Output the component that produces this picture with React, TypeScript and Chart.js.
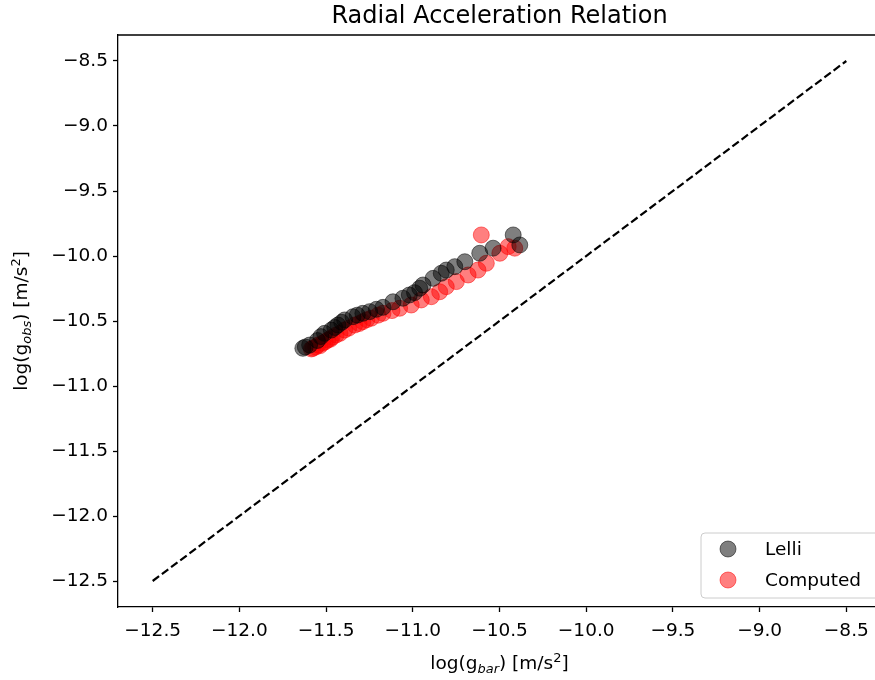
import React, { useEffect, useRef } from "react";
import { Chart, registerables } from "chart.js";

Chart.register(...registerables);

// ---- data ----
const lelliX = [-11.634, -11.62, -11.595, -11.55, -11.53, -11.509, -11.47, -11.45, -11.432, -11.41, -11.393, -11.345, -11.32, -11.288, -11.249, -11.21, -11.172, -11.114, -11.057, -11.02, -10.99, -10.96, -10.941, -10.883, -10.836, -10.807, -10.758, -10.7, -10.614, -10.537, -10.421, -10.383];
const lelliY = [-10.71, -10.7, -10.685, -10.65, -10.62, -10.595, -10.57, -10.55, -10.531, -10.51, -10.492, -10.467, -10.455, -10.441, -10.428, -10.41, -10.395, -10.352, -10.325, -10.3, -10.282, -10.248, -10.223, -10.172, -10.133, -10.108, -10.082, -10.044, -9.979, -9.94, -9.838, -9.915];
const computedX = [-11.585, -11.576, -11.56, -11.547, -11.535, -11.52, -11.505, -11.49, -11.475, -11.465, -11.442, -11.42, -11.393, -11.37, -11.335, -11.31, -11.288, -11.265, -11.24, -11.2, -11.172, -11.12, -11.076, -11.009, -10.951, -10.893, -10.845, -10.807, -10.749, -10.681, -10.624, -10.576, -10.498, -10.45, -10.412, -10.605];
const computedY = [-10.715, -10.71, -10.7, -10.685, -10.69, -10.67, -10.66, -10.646, -10.64, -10.625, -10.608, -10.595, -10.569, -10.555, -10.531, -10.52, -10.505, -10.49, -10.479, -10.455, -10.441, -10.42, -10.402, -10.377, -10.338, -10.313, -10.275, -10.236, -10.197, -10.146, -10.108, -10.056, -9.979, -9.928, -9.94, -9.838];
const unityX = [-12.5, -8.5];
const unityY = [-12.5, -8.5];
const xTicks = [-12.5, -12.0, -11.5, -11.0, -10.5, -10.0, -9.5, -9.0, -8.5];
const yTicks = [-12.5, -12.0, -11.5, -11.0, -10.5, -10.0, -9.5, -9.0, -8.5];
const xRange = [-12.7, -8.3];
const yRange = [-12.7, -8.3];
const seriesNames = ["Lelli", "Computed"];
const titleText = "Radial Acceleration Relation";

const FONT = "DejaVu Sans";
const FS = 18.5;
const BLACK_FILL = "rgba(0,0,0,0.5)";
const RED_FILL = "rgba(255,0,0,0.5)";
const MR = 8;

const fmt = (v: number) => (v < 0 ? "\u2212" : "") + Math.abs(v).toFixed(1);

type Seg = { t: string; size: number; italic?: boolean; dy?: number };

function drawSegs(ctx: CanvasRenderingContext2D, segs: Seg[], cx: number, baseY: number) {
  let total = 0;
  const widths = segs.map((s) => {
    ctx.font = `${s.italic ? "italic " : ""}${s.size}px "${FONT}"`;
    const w = ctx.measureText(s.t).width;
    total += w;
    return w;
  });
  let x = cx - total / 2;
  ctx.textAlign = "left";
  ctx.textBaseline = "alphabetic";
  segs.forEach((s, i) => {
    ctx.font = `${s.italic ? "italic " : ""}${s.size}px "${FONT}"`;
    ctx.fillText(s.t, x, baseY + (s.dy || 0));
    x += widths[i];
  });
}

const decor = {
  id: "decor",
  afterDraw(chart: any) {
    const ctx: CanvasRenderingContext2D = chart.ctx;
    const a = chart.chartArea;
    ctx.save();
    ctx.strokeStyle = "#000";
    ctx.lineWidth = 1.3;
    ctx.beginPath();
    ctx.moveTo(a.left, a.top);
    ctx.lineTo(a.right, a.top);
    ctx.lineTo(a.right, a.bottom);
    ctx.stroke();

    ctx.fillStyle = "#000";
    const cx = (a.left + a.right) / 2;
    // title
    ctx.font = `24px "${FONT}"`;
    ctx.textAlign = "center";
    ctx.textBaseline = "alphabetic";
    ctx.fillText(titleText, cx, 23);

    const small = FS * 0.7;
    // x label
    drawSegs(ctx, [
      { t: "log(g", size: FS },
      { t: "bar", size: small, italic: true, dy: 3.5 },
      { t: ") [m/s", size: FS },
      { t: "2", size: small, dy: -7 },
      { t: "]", size: FS },
    ], cx, 669);

    // y label
    ctx.save();
    ctx.translate(27, (a.top + a.bottom) / 2);
    ctx.rotate(-Math.PI / 2);
    drawSegs(ctx, [
      { t: "log(g", size: FS },
      { t: "obs", size: small, italic: true, dy: 3.5 },
      { t: ") [m/s", size: FS },
      { t: "2", size: small, dy: -7 },
      { t: "]", size: FS },
    ], 0, 0);
    ctx.restore();

    // legend
    const lx = 701, ly = 533, lw = 220, lh = 65, r = 4;
    ctx.beginPath();
    ctx.moveTo(lx + r, ly);
    ctx.lineTo(lx + lw - r, ly);
    ctx.arcTo(lx + lw, ly, lx + lw, ly + r, r);
    ctx.lineTo(lx + lw, ly + lh - r);
    ctx.arcTo(lx + lw, ly + lh, lx + lw - r, ly + lh, r);
    ctx.lineTo(lx + r, ly + lh);
    ctx.arcTo(lx, ly + lh, lx, ly + lh - r, r);
    ctx.lineTo(lx, ly + r);
    ctx.arcTo(lx, ly, lx + r, ly, r);
    ctx.closePath();
    ctx.fillStyle = "rgba(255,255,255,0.8)";
    ctx.fill();
    ctx.strokeStyle = "#cccccc";
    ctx.lineWidth = 1;
    ctx.stroke();

    const fills = [BLACK_FILL, RED_FILL];
    const ys = [549, 580];
    seriesNames.forEach((name, i) => {
      ctx.beginPath();
      ctx.arc(728, ys[i], MR, 0, Math.PI * 2);
      ctx.fillStyle = fills[i];
      ctx.fill();
      ctx.strokeStyle = fills[i];
      ctx.lineWidth = 1;
      ctx.stroke();
      ctx.fillStyle = "#000";
      ctx.font = `${FS}px "${FONT}"`;
      ctx.textAlign = "left";
      ctx.textBaseline = "middle";
      ctx.fillText(name, 765, ys[i] + 1);
    });
    ctx.restore();
  },
};

export default function App() {
  const ref = useRef<HTMLCanvasElement | null>(null);
  useEffect(() => {
    if (!ref.current) return;
    const toPts = (xs: number[], ys: number[]) => xs.map((x, i) => ({ x, y: ys[i] }));
    const tickFont = { family: FONT, size: FS };
    const chart = new Chart(ref.current, {
      type: "scatter",
      data: {
        datasets: [
          {
            label: "unity",
            data: toPts(unityX, unityY),
            showLine: true,
            borderColor: "#000",
            borderWidth: 2.2,
            borderDash: [8, 3.5],
            pointRadius: 0,
            fill: false,
          } as any,
          {
            label: seriesNames[0],
            data: toPts(lelliX, lelliY),
            backgroundColor: BLACK_FILL,
            borderColor: BLACK_FILL,
            borderWidth: 1,
            pointRadius: MR,
          },
          {
            label: seriesNames[1],
            data: toPts(computedX, computedY),
            backgroundColor: RED_FILL,
            borderColor: RED_FILL,
            borderWidth: 1,
            pointRadius: MR,
          },
        ],
      },
      options: {
        animation: false,
        responsive: false,
        devicePixelRatio: 1,
        layout: { padding: { top: 35, right: 7, left: 0, bottom: 0 } },
        plugins: { legend: { display: false }, title: { display: false }, tooltip: { enabled: false } },
        scales: {
          x: {
            type: "linear",
            min: xRange[0],
            max: xRange[1],
            afterBuildTicks: (s: any) => { s.ticks = xTicks.map((v) => ({ value: v })); },
            afterFit: (s: any) => { s.height = 73; },
            ticks: { font: tickFont, color: "#000", padding: 8, maxRotation: 0, autoSkip: false, callback: (v: any) => fmt(Number(v)) },
            grid: { display: true, drawOnChartArea: false, drawTicks: true, tickLength: 5, tickColor: "#000", tickWidth: 1.3 },
            border: { display: true, color: "#000", width: 1.3 },
          },
          y: {
            type: "linear",
            min: yRange[0],
            max: yRange[1],
            afterBuildTicks: (s: any) => { s.ticks = yTicks.map((v) => ({ value: v })); },
            afterFit: (s: any) => { s.width = 118; },
            ticks: { font: tickFont, color: "#000", padding: 5, autoSkip: false, callback: (v: any) => fmt(Number(v)) },
            grid: { display: true, drawOnChartArea: false, drawTicks: true, tickLength: 5, tickColor: "#000", tickWidth: 1.3 },
            border: { display: true, color: "#000", width: 1.3 },
          },
        },
      },
      plugins: [decor],
    } as any);
    return () => chart.destroy();
  }, []);
  return (
    <div style={{ position: "absolute", left: 0, top: 0, width: 875, height: 680, overflow: "hidden", background: "#fff" }}>
      <canvas ref={ref} width={890} height={680} style={{ display: "block" }} />
    </div>
  );
}
